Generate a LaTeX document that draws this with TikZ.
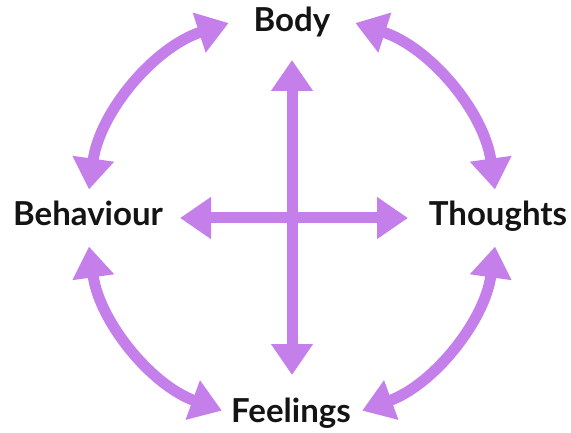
\documentclass[tikz,border=0pt]{standalone}
\usepackage{fontspec}
\setmainfont{Lato}
\usetikzlibrary{arrows.meta}

\definecolor{lilac}{HTML}{C57FEA}

\begin{document}
\begin{tikzpicture}[
  x=1pt, y=1pt,
  font=\fontsize{33}{36}\selectfont\bfseries,
  link/.style={{Triangle[width=40pt,length=31pt]}-{Triangle[width=40pt,length=31pt]}, line width=11pt, draw=lilac},
  label/.style={inner sep=0pt, anchor=base, text=black!92}
]

\def\r{205}

% frame of the picture
\useasboundingbox (0,0) rectangle (571,432);

% the four corners of the cycle
\node[label] (body) at (292,400) {Body};
\node[label] (behaviour) at (88,207) {Behaviour};
\node[label] (thoughts) at (498,207) {Thoughts};
\node[label] (feelings) at (291,10) {Feelings};

% centre of the ring and the ends of the cross
\coordinate (hub) at (292,214);
\coordinate (crossN) at (292,372);
\coordinate (crossS) at (292,57);
\coordinate (crossW) at (180,214);
\coordinate (crossE) at (408,214);

% arcs round the ring
\draw[link] ([shift={(72:\r)}]hub) arc[start angle=72, end angle=8, radius=\r];
\draw[link] ([shift={(108:\r)}]hub) arc[start angle=108, end angle=172, radius=\r];
\draw[link] ([shift={(188:\r)}]hub) arc[start angle=188, end angle=250, radius=\r];
\draw[link] ([shift={(290:\r)}]hub) arc[start angle=290, end angle=352, radius=\r];

% the cross
\draw[link] (crossS) -- (crossN);
\draw[link] (crossW) -- (crossE);

\end{tikzpicture}
\end{document}
